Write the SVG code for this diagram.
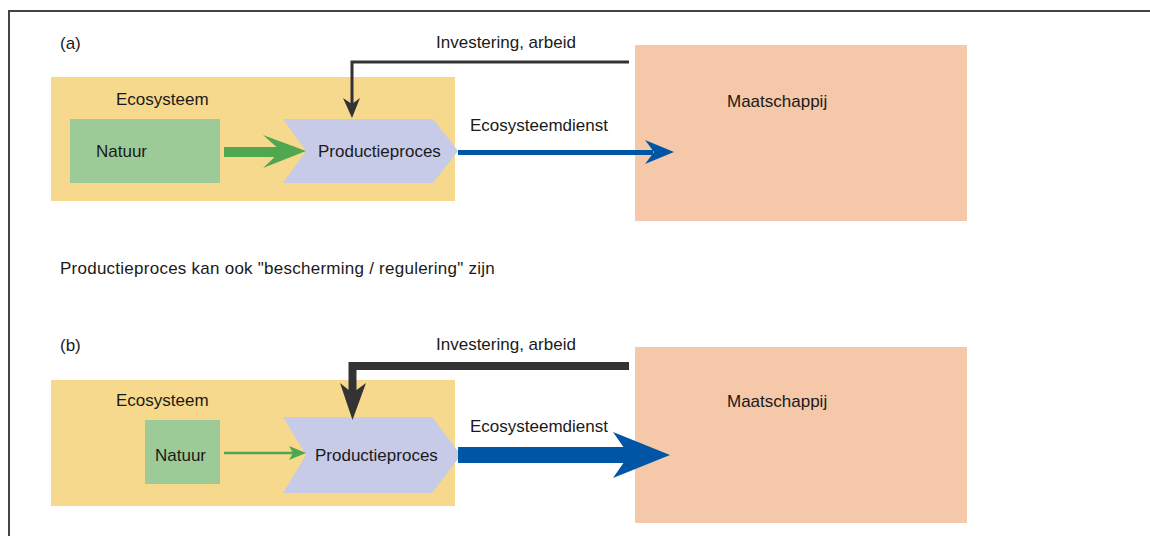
<svg xmlns="http://www.w3.org/2000/svg" width="1150" height="536" viewBox="0 0 1150 536">
<style>
text{font-family:"Liberation Sans",Arial,sans-serif;font-size:17px;fill:#1a1a1a}
.eco{fill:#F6D98C}
.nat{fill:#9CCB98}
.proc{fill:#C7CBE8}
.maat{fill:#F4C8A8}
</style>
<rect width="1150" height="536" fill="#fff"/>
<g id="frame" fill="none" stroke="#444" stroke-width="2">
<path d="M9,536 V11 H1150"/>
</g>
<g id="labels">
<text x="60" y="49">(a)</text>
<text x="60" y="274" letter-spacing="0.25">Productieproces kan ook "bescherming / regulering" zijn</text>
<text x="60" y="351">(b)</text>
</g>
<!-- (a) -->
<g id="a-ecosysteem"><rect class="eco" x="51" y="77" width="404" height="124"/><text x="116" y="105">Ecosysteem</text></g>
<g id="a-natuur"><rect class="nat" x="70" y="119" width="150" height="64"/><text x="96" y="157">Natuur</text></g>
<g id="a-productieproces"><polygon class="proc" points="283,119 433,119 458,151 433,183 283,183 306,151"/><text x="318" y="157">Productieproces</text></g>
<g id="a-maatschappij"><rect class="maat" x="635" y="45" width="332" height="176"/><text x="727" y="107">Maatschappij</text></g>
<!-- (b) -->
<g id="b-ecosysteem"><rect class="eco" x="51" y="380" width="404" height="126"/><text x="116" y="406">Ecosysteem</text></g>
<g id="b-natuur"><rect class="nat" x="145" y="420" width="75" height="64"/><text x="155" y="461">Natuur</text></g>
<g id="b-productieproces"><polygon class="proc" points="283,417 432,417 461,455 432,493 283,493 306,455"/><text x="315" y="461">Productieproces</text></g>
<g id="b-maatschappij"><rect class="maat" x="635" y="347" width="332" height="176"/><text x="727" y="407">Maatschappij</text></g>
<g id="connectors">
<!-- (a) -->
<rect x="224" y="147" width="60" height="10" fill="#4FA84F"/>
<polygon points="263,135 306,151 263,168 281,151" fill="#4FA84F"/>
<path d="M629,62 H352 V108" fill="none" stroke="#333" stroke-width="3"/>
<polygon points="343,98 352,118 360,98 352,104" fill="#333"/>
<rect x="458" y="150" width="195" height="5" fill="#0055A5"/>
<polygon points="645,140 674,152 645,164 654,152" fill="#0055A5"/>
<text x="436" y="48">Investering, arbeid</text>
<text x="470" y="131">Ecosysteemdienst</text>
<!-- (b) -->
<line x1="224" y1="453" x2="295" y2="453" stroke="#4FA84F" stroke-width="2.5"/>
<polygon points="289,446 306,453 289,460 293,453" fill="#4FA84F"/>
<path d="M629,366 H352.5 V395" fill="none" stroke="#333" stroke-width="8"/>
<polygon points="340,383 352.5,420 366,383 352.5,393" fill="#333"/>
<rect x="458" y="447" width="175" height="16" fill="#0055A5"/>
<polygon points="613,432 670,455 613,478 629,455" fill="#0055A5"/>
<text x="436" y="350">Investering, arbeid</text>
<text x="470" y="432">Ecosysteemdienst</text>
</g>
</svg>
